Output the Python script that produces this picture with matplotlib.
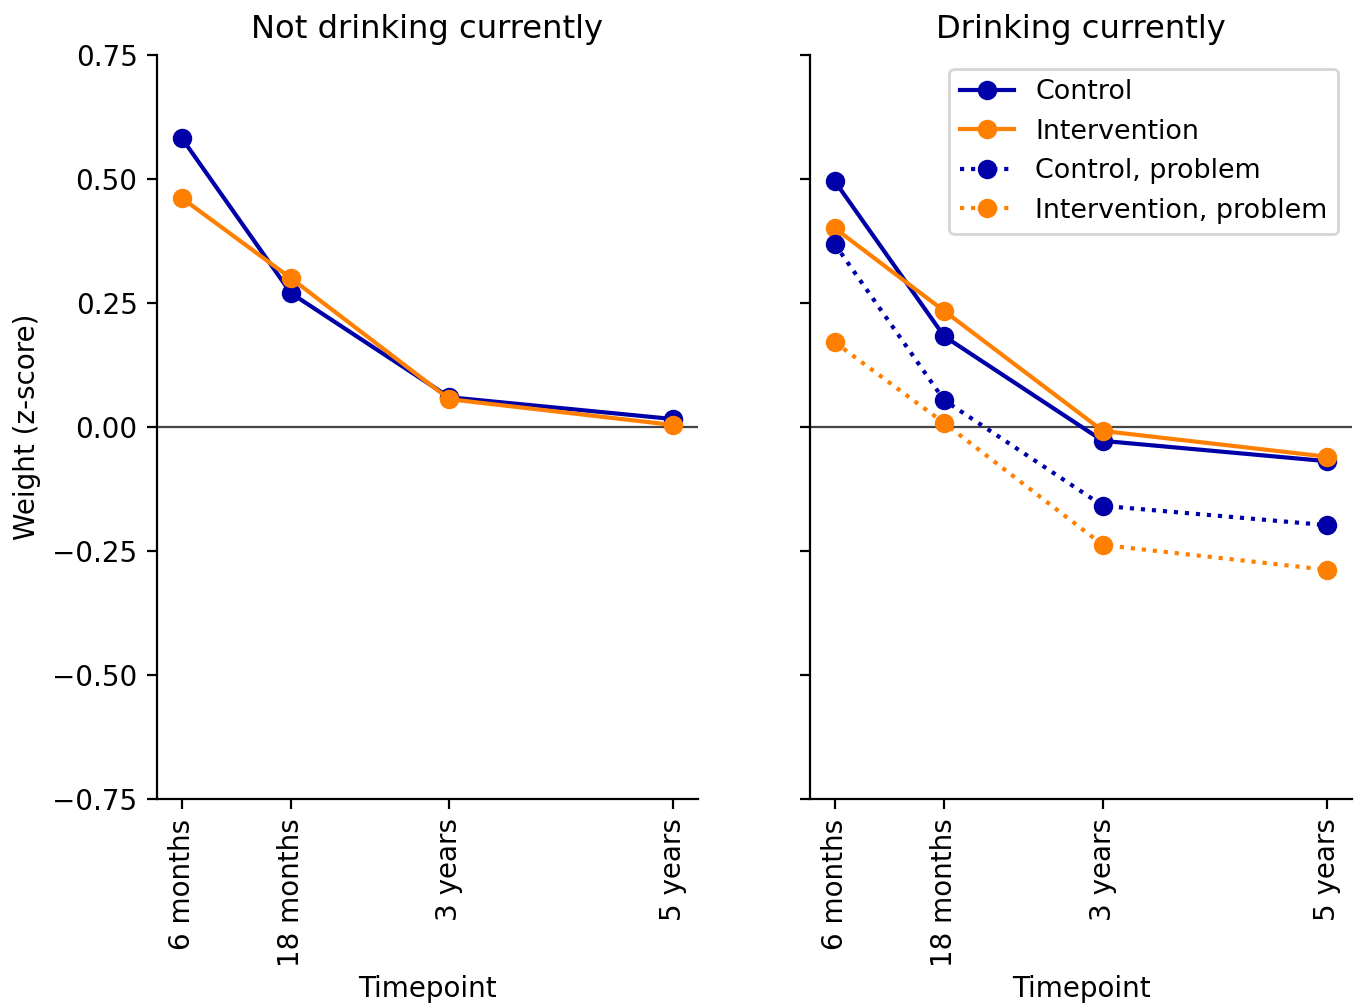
import matplotlib
matplotlib.use("Agg")
import matplotlib.pyplot as plt
import numpy as np

timepoints = ["6 months", "18 months", "3 years", "5 years"]
years = [0.5, 1.5, 2.95, 5]

# not drinking currently
nd_control = [0.583, 0.270, 0.060, 0.016]
nd_intervention = [0.462, 0.300, 0.056, 0.004]

# drinking currently
d_control = [0.496, 0.183, -0.028, -0.069]
d_intervention = [0.401, 0.234, -0.008, -0.060]
d_control_problem = [0.369, 0.054, -0.159, -0.198]
d_intervention_problem = [0.171, 0.008, -0.238, -0.288]

BLUE = "#0000a8"
ORANGE = "#ff8000"

fig = plt.figure(figsize=(13.63 / 2, 10.06 / 2), dpi=200)
ax1 = fig.add_axes([0.1152, 0.2058, 0.3969, 0.7395])
ax2 = fig.add_axes([0.5943, 0.2058, 0.3976, 0.7395], sharey=ax1)

ax1.plot(years, nd_control, "-o", color=BLUE, lw=1.5, ms=6, label="Control")
ax1.plot(years, nd_intervention, "-o", color=ORANGE, lw=1.5, ms=6, label="Intervention")

ax2.plot(years, d_control, "-o", color=BLUE, lw=1.5, ms=6, label="Control")
ax2.plot(years, d_intervention, "-o", color=ORANGE, lw=1.5, ms=6, label="Intervention")
ax2.plot(years, d_control_problem, ":o", color=BLUE, lw=1.5, ms=6, label="Control, problem")
ax2.plot(years, d_intervention_problem, ":o", color=ORANGE, lw=1.5, ms=6,
         label="Intervention, problem")

for ax, title in [(ax1, "Not drinking currently"), (ax2, "Drinking currently")]:
    ax.axhline(0, color="#444444", lw=0.8, zorder=0)
    ax.set_title(title, fontsize=11.6)
    ax.set_xticks(years)
    ax.set_xticklabels(timepoints, rotation=90, fontsize=10)
    ax.set_xlabel("Timepoint", fontsize=10, labelpad=3)
    ax.spines["top"].set_visible(False)
    ax.spines["right"].set_visible(False)
    ax.tick_params(labelsize=10)

ax1.set_ylim(-0.75, 0.75)
ax1.set_yticks(np.arange(-0.75, 0.76, 0.25))
ax1.set_ylabel("Weight (z-score)", fontsize=10)
plt.setp(ax2.get_yticklabels(), visible=False)

ax2.legend(loc="upper right", fontsize=9.7)

fig.savefig("out.png")
